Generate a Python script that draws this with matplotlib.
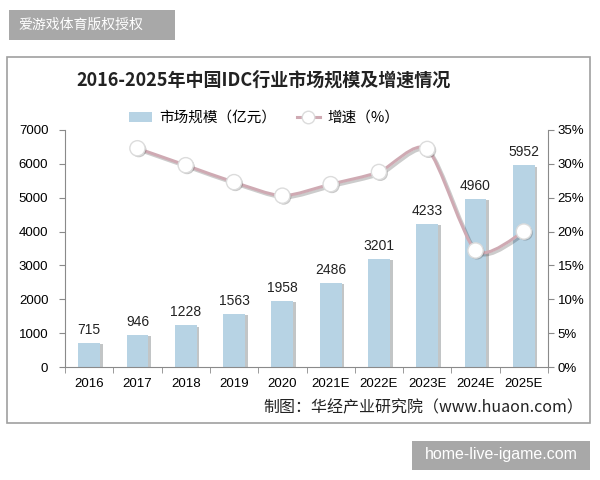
import matplotlib
matplotlib.use('Agg')
import numpy as np
import matplotlib.pyplot as plt
import matplotlib.patheffects as pe
from matplotlib.patches import Rectangle, PathPatch
from matplotlib.path import Path
from matplotlib.lines import Line2D

plt.rcParams['font.family'] = ['Liberation Sans', 'Noto Sans CJK SC', 'DejaVu Sans']

years = ['2016', '2017', '2018', '2019', '2020', '2021E', '2022E', '2023E', '2024E', '2025E']
market = [715, 946, 1228, 1563, 1958, 2486, 3201, 4233, 4960, 5952]
growth = [None, 32.3, 29.8, 27.3, 25.3, 27.0, 28.8, 32.2, 17.2, 20.0]

cjk = ['Noto Sans CJK SC', 'DejaVu Sans']
axis_col = '#8a8a8a'
bar_col = '#b7d3e4'
line_col = '#cfaab3'

fig = plt.figure(figsize=(6, 4.8), dpi=100)
fig.patch.set_facecolor('white')

# outer frame of the chart
fig.patches.append(Rectangle((7 / 600, 1 - 423 / 480), 583 / 600, 366 / 480,
                             transform=fig.transFigure, fill=False,
                             edgecolor='#a0a0a0', linewidth=1.2))

ax = fig.add_axes([65 / 600, 1 - 367 / 480, 483 / 600, 237 / 480])
x = np.arange(len(years))
bars = ax.bar(x, market, width=0.45, color=bar_col, zorder=2,
              path_effects=[pe.SimplePatchShadow(offset=(2, -1), alpha=0.3), pe.Normal()])
for xi, v in zip(x, market):
    ax.text(xi, v + 180, str(v), ha='center', va='bottom', fontsize=10, color='#222222')

ax.set_xlim(-0.5, len(years) - 0.5)
ax.set_ylim(0, 7000)
ax.set_yticks(range(0, 7001, 1000))
ax.set_xticks(x)
ax.set_xticklabels(years, fontsize=9.5)
ax.tick_params(axis='y', labelsize=9.5, length=4, color=axis_col, pad=8)
ax.tick_params(axis='x', length=0, pad=8)
ax.set_xticks(np.arange(-0.5, len(years), 1), minor=True)
ax.tick_params(axis='x', which='minor', length=4, color=axis_col)
for s in ['top', 'right']:
    ax.spines[s].set_visible(False)
ax.spines['left'].set_color(axis_col)
ax.spines['bottom'].set_color(axis_col)

ax2 = ax.twinx()
ax2.set_ylim(0, 35)
ax2.set_yticks(range(0, 36, 5))
ax2.set_yticklabels([f'{t}%' for t in range(0, 36, 5)])
ax2.tick_params(axis='y', labelsize=9.5, length=4, color=axis_col, pad=3)
for s in ['top', 'left', 'bottom']:
    ax2.spines[s].set_visible(False)
ax2.spines['right'].set_color(axis_col)

# smoothed growth line (cubic Bezier segments through the points)
gx = [xi for xi, g in zip(x, growth) if g is not None]
gy = [g for g in growth if g is not None]
pts = np.column_stack([gx, gy]).astype(float)
verts = [tuple(pts[0])]
codes = [Path.MOVETO]
n = len(pts)
for i in range(n - 1):
    p0 = pts[max(i - 1, 0)]
    p1 = pts[i]
    p2 = pts[i + 1]
    p3 = pts[min(i + 2, n - 1)]
    c1 = p1 + (p2 - p0) / 8
    c2 = p2 - (p3 - p1) / 8
    verts += [tuple(c1), tuple(c2), tuple(p2)]
    codes += [Path.CURVE4] * 3
curve = PathPatch(Path(verts, codes), fill=False, edgecolor=line_col, linewidth=2.2, zorder=3,
                  path_effects=[pe.SimpleLineShadow(offset=(1.5, -1.5), alpha=0.2), pe.Normal()])
ax2.add_patch(curve)
ax2.scatter(gx, gy, s=120, facecolor='white', edgecolor='#dcdcdc', linewidth=1, zorder=4,
            path_effects=[pe.SimplePatchShadow(offset=(1, -1), alpha=0.3), pe.Normal()])

# legend
handles = [Rectangle((0, 0), 1, 1, facecolor=bar_col, edgecolor='none'),
           Line2D([], [], color=line_col, linewidth=2.2, marker='o', markersize=9,
                  markerfacecolor='white', markeredgecolor='#dcdcdc')]
fig.legend(handles, ['市场规模（亿元）', '增速（%）'], loc='center', bbox_to_anchor=(0.44, 1 - 118 / 480),
           ncol=2, frameon=False, prop={'family': cjk, 'size': 10.5}, handlelength=1.6,
           columnspacing=1.4, handletextpad=0.5)

fig.text(0.44, 1 - 80 / 480, '2016-2025年中国IDC行业市场规模及增速情况', ha='center', va='center',
         fontsize=13, fontweight='bold', family=cjk, color='#222222')
fig.text(583 / 600, 1 - 408 / 480, '制图：华经产业研究院（www.huaon.com）', ha='right', va='center',
         fontsize=11.5, family=cjk, color='#222222')

# watermark boxes
fig.patches.append(Rectangle((9 / 600, 1 - 40 / 480), 166 / 600, 30 / 480,
                             transform=fig.transFigure, facecolor='#a8a8a8', edgecolor='none'))
fig.text(18 / 600, 1 - 25 / 480, '爱游戏体育版权授权', ha='left', va='center', fontsize=10,
         family=cjk, color='white')
fig.patches.append(Rectangle((412 / 600, 1 - 470 / 480), 178 / 600, 29 / 480,
                             transform=fig.transFigure, facecolor='#a8a8a8', edgecolor='none'))
fig.text(501 / 600, 1 - 455 / 480, 'home-live-igame.com', ha='center', va='center', fontsize=11.5,
         color='white')

fig.savefig('out.png', dpi=100)
